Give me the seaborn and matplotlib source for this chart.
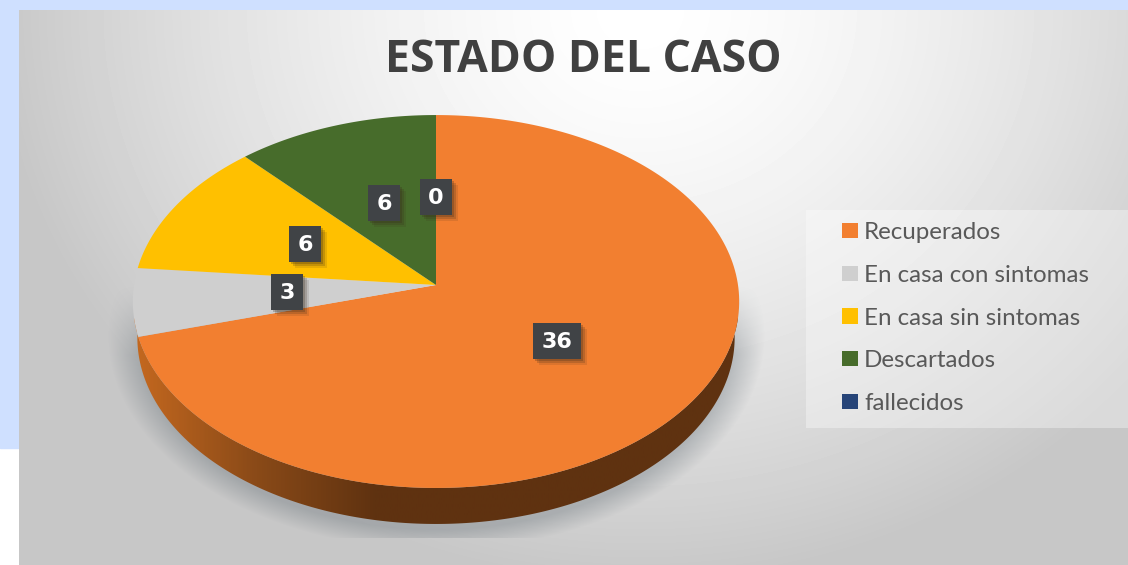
import numpy as np
import matplotlib
matplotlib.use('Agg')
import matplotlib.pyplot as plt
import seaborn as sns
from matplotlib.colors import LinearSegmentedColormap
from matplotlib.patches import Polygon, Rectangle

categories = ['Recuperados', 'En casa con sintomas', 'En casa sin sintomas', 'Descartados', 'fallecidos']
values = [36, 3, 6, 6, 0]
slice_colors = ['#F27F30', '#CFCFCF', '#FFC000', '#476C2B', '#264478']
label_x = [557, 287, 305, 384, 436]
label_y = [341, 292, 244, 203, 197]

sns.set_theme(style='white')
plt.rcParams['font.family'] = ['Open Sans', 'DejaVu Sans']

W, H = 1128, 565
CX, CY = 436, 285
RX, RY, TILT = 302, 185, 0.0885
DEPTH = 36


def warp(x, y):
    # perspective of the tilted disc, the front half is closer to the viewer
    k = 1 + TILT * y
    return CX + RX * x / k, CY - RY * y / k


fig = plt.figure(figsize=(W / 100, H / 100), dpi=100)
ax = fig.add_axes([0, 0, 1, 1])

wedges, _ = ax.pie(values, colors=sns.color_palette(slice_colors), startangle=90, counterclock=False)
for w in wedges:
    w.set_visible(False)
ax.set_aspect('auto')
ax.axis('off')

# page behind the panel
ax.add_patch(Rectangle((0, 0), W, H, color='white', zorder=0))
ax.add_patch(Rectangle((0, 0), W, 448, color='#CFE0FF', zorder=0.1))

# panel gradient
yy, xx = np.mgrid[10:H, 19:W]
dist = np.sqrt(((xx - 640) / 700) ** 2 + ((yy - 10) / 620) ** 2)
grad = 1 - 0.25 * np.clip(dist, 0, 0.92) ** 1.5
ax.imshow(grad, extent=(19, W, H, 10), cmap='gray', vmin=0, vmax=1, aspect='auto', zorder=1, interpolation='bilinear')

# soft shadow under the pie
d = np.sqrt(((xx - CX) / (RX + 8)) ** 2 + ((yy - 335) / 202) ** 2)
shadow = np.clip((1.06 - d) / 0.1, 0, 1) * 0.36 * np.clip((yy - 285) / 70, 0, 1)
shadow[yy > 537] = 0
rgba = np.zeros(xx.shape + (4,))
rgba[..., 0] = 0.40
rgba[..., 1] = 0.44
rgba[..., 2] = 0.47
rgba[..., 3] = shadow
ax.imshow(rgba, extent=(19, W, H, 10), aspect='auto', zorder=2)

# side wall of the pie, lower rim a bit narrower so it tapers out at the sides
th = np.linspace(np.pi, 2 * np.pi, 300)
ex, ey = warp(np.cos(th), np.sin(th))
low_x = CX + (ex - CX) * 0.985
wall = np.column_stack([np.r_[ex, low_x[::-1]], np.r_[ey, ey[::-1] + DEPTH]])
wall_cmap = LinearSegmentedColormap.from_list('wall', ['#C4681F', '#8A4A18', '#5F3210', '#5F3210', '#5F3210', '#5F3210'])
wall_img = ax.imshow(np.linspace(0, 1, 400)[None, :], extent=(CX - RX, CX + RX, H, 0), cmap=wall_cmap, aspect='auto', zorder=3)
wall_img.set_clip_path(Polygon(wall, closed=True, transform=ax.transData))

ax.set_xlim(0, W)
ax.set_ylim(H, 0)

# top face, angles taken from the pie
handles = []
for w, col in zip(wedges, slice_colors):
    t = np.radians(np.linspace(w.theta1, w.theta2, 200))
    px, py = warp(np.cos(t), np.sin(t))
    poly = ax.fill(np.r_[CX, px], np.r_[CY, py], color=col, lw=0, zorder=4)[0]
    handles.append(poly)

# value labels, dark boxes with a small shadow
for x, y, v in zip(label_x, label_y, values):
    bw = 48 if v >= 10 else 32
    for off, al in [(6, 0.12), (4, 0.2), (2, 0.25)]:
        ax.add_patch(Rectangle((x - bw / 2 + off, y - 18 + off), bw, 36, color='#3a2a1a', alpha=al, lw=0, zorder=5))
    ax.add_patch(Rectangle((x - bw / 2, y - 18), bw, 36, color='#404346', lw=0, zorder=5.5))
    ax.text(x, y + 1, str(v), color='white', fontsize=16, fontweight='bold', family='DejaVu Sans',
            ha='center', va='center', zorder=6)

# title
ax.text(583, 60, 'ESTADO DEL CASO', color='#404040', fontsize=32, fontweight='bold', ha='center', va='center', zorder=6)

# legend panel
ax.add_patch(Rectangle((806, 210), W - 806, 218, color='white', alpha=0.35, lw=0, zorder=2))
leg = ax.legend(handles, categories, loc='upper left', bbox_to_anchor=(842 / W, 1 - 222 / H), frameon=False,
                fontsize=17.4, labelcolor='#595959', handlelength=0.66, handleheight=0.6, handletextpad=0.25,
                labelspacing=0.9, borderpad=0, borderaxespad=0)
leg.set_zorder(6)
for t in leg.get_texts():
    t.set_family('Lato')

fig.savefig('out.png', dpi=100)
